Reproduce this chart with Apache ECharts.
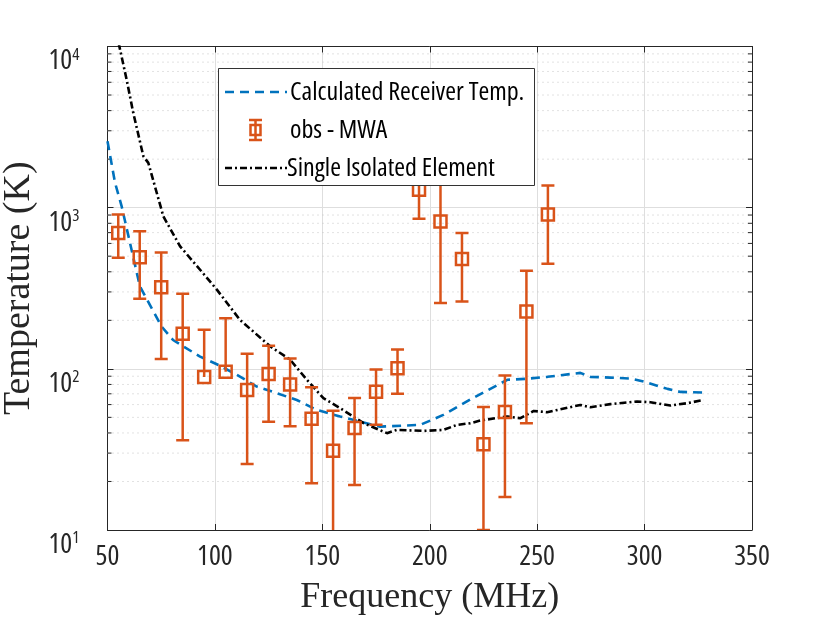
<!DOCTYPE html>
<html><head><meta charset="utf-8">
<script src="https://cdn.jsdelivr.net/npm/echarts@6/dist/echarts.min.js"></script>
<style>html,body{margin:0;padding:0;background:#fff}#c{width:830px;height:623px}</style>
</head><body><div id="c"></div>
<script>
// ---- data ----
const freqObs = [55,65,75,85,95,105,115,125,135,145,155,165,175,185,195,205,215,225,235,245,255];
const tObs    = [697,493,321,165,89,96,74,93,80,49,31,43,72,101,1294,822,480,34,54,227,906];
const tLow    = [489,272,115,36,89,96,25.7,47,44,19.5,8,19,45,70,855,256,262,10,16,46,449];
const tHigh   = [906,713,527,292,175,206,124,139,116,77,55,66,99,132,1900,1600,696,58,91,406,1371];

const freqCalc = [50,53.5,56.6,65.1,75.2,80.5,93.1,102.4,110.2,119.5,128.8,138.1,147.5,158.3,176.9,195.6,206.3,220.3,236.1,245.4,254.8,270.1,274.8,284.1,293.4,299.5,310.7,316.7,327.4];
const tCalc    = [2582,1429,1018,324,183,151,119,104.5,91.8,77.6,70.6,64.1,55.6,50.6,43.8,44.9,51.8,66.1,85.5,86.8,89.2,94.4,89.2,88.2,87.0,83.4,75.1,71.9,71.2];

const freqSingle = [52,55.5,58.9,62.0,66.7,69.0,76.0,83.8,93.1,100.9,111.7,125.7,135.0,142.8,150.5,158.3,169.2,180.1,184.7,197.1,206.4,212.7,218.9,223.6,236.0,242.2,248.4,254.6,270.1,274.8,284.1,296.5,302.7,312.0,319.8,327.5];
const tSingle    = [16000,10050,6237,3873,2084,1897,883,575,412,310,201,138,114,85.5,65.8,57.0,46.0,39.9,41.8,41.2,41.8,44.9,46.0,47.8,50.6,49.4,54.8,53.8,59.7,57.8,60.4,62.7,62.1,59.2,61.2,64.1];

const yMinor = [20,30,40,50,60,70,80,90,200,300,400,500,600,700,800,900,2000,3000,4000,5000,6000,7000,8000,9000];

const names = ['Calculated Receiver Temp.','obs - MWA','Single Isolated Element'];
// ---------------------------------------

const BLUE='#0072BD', ORANGE='#D95319', AXC='#262626';
const SANS = '"Open Sans","Roboto Condensed",sans-serif';
const SERIF = '"Liberation Serif","DejaVu Serif",serif';
const LEGTXT = {fontFamily:SANS, fontWeight:'condensed', fontSize:26, fill:'#000', verticalAlign:'middle'};

const obsData = freqObs.map((f,i)=>[f,tObs[i],tLow[i],tHigh[i]]);
const chart = echarts.init(document.getElementById('c'), null, {renderer:'canvas'});

const yLabel = {
  color:'#262626', margin: 28, verticalAlign:'top',
  formatter: v => '{b|10}{s|' + Math.round(Math.log10(v)) + '}',
  rich: {
    b:{fontSize:28, fontFamily:SANS, fontWeight:'condensed', color:'#262626', lineHeight:30},
    s:{fontSize:17, fontFamily:SANS, fontWeight:'condensed', color:'#262626', lineHeight:17, verticalAlign:'top'}
  }
};

// legend geometry (box around the three entries)
const LX=218.5, LY=68.5, LW=316, LH=117;
const rows=[92,130,168];
const legendEls = [
  {type:'rect', shape:{x:LX, y:LY, width:LW, height:LH}, style:{fill:'#fff', stroke:'#333', lineWidth:1}},
  {type:'line', shape:{x1:225, y1:rows[0], x2:287, y2:rows[0]}, style:{stroke:BLUE, lineWidth:2.6, lineDash:[9,6]}},
  {type:'text', x:290, y:rows[0]+1, style:Object.assign({text:names[0]}, LEGTXT)},
  {type:'line', shape:{x1:255.5, y1:rows[1]-10, x2:255.5, y2:rows[1]+10}, style:{stroke:ORANGE, lineWidth:2.5}},
  {type:'line', shape:{x1:249, y1:rows[1]-10, x2:262, y2:rows[1]-10}, style:{stroke:ORANGE, lineWidth:2.5}},
  {type:'line', shape:{x1:249, y1:rows[1]+10, x2:262, y2:rows[1]+10}, style:{stroke:ORANGE, lineWidth:2.5}},
  {type:'rect', shape:{x:250.5, y:rows[1]-5, width:10, height:10}, style:{fill:'none', stroke:ORANGE, lineWidth:2.5}},
  {type:'text', x:290, y:rows[1]+1, style:Object.assign({text:names[1]}, LEGTXT)},
  {type:'line', shape:{x1:225, y1:rows[2], x2:287, y2:rows[2]}, style:{stroke:'#000', lineWidth:2.6, lineDash:[7,3,2,3]}},
  {type:'text', x:287, y:rows[2]+1, style:Object.assign({text:names[2]}, LEGTXT)}
].map(e => Object.assign(e, {z:100, silent:true}));

chart.setOption({
  animation:false,
  backgroundColor:'#fff',
  grid:{left:107.5, right:78, top:46.5, bottom:93, show:false, outerBoundsMode:'none', containLabel:false},
  xAxis:[
    {type:'value', min:50, max:350, interval:50, position:'bottom',
     axisLine:{show:true, onZero:false, lineStyle:{color:AXC, width:1}},
     axisTick:{show:true, inside:true, length:6, lineStyle:{color:AXC}},
     axisLabel:{fontFamily:SANS, fontWeight:'condensed', fontSize:28, color:'#262626', margin:13},
     splitLine:{show:true, lineStyle:{color:'#dedede', width:1}},
     name:'Frequency (MHz)', nameLocation:'middle', nameGap:50,
     nameTextStyle:{fontFamily:SERIF, fontSize:36, color:'#262626'}},
    {type:'value', min:50, max:350, interval:50, position:'top',
     axisLine:{show:true, onZero:false, lineStyle:{color:AXC, width:1}},
     axisTick:{show:true, inside:true, length:6, lineStyle:{color:AXC}},
     axisLabel:{show:false}, splitLine:{show:false}}
  ],
  yAxis:[
    {type:'log', logBase:10, min:10, max:10000, position:'left',
     axisLine:{show:true, onZero:false, lineStyle:{color:AXC, width:1}},
     axisTick:{show:true, inside:true, length:6, lineStyle:{color:AXC}},
     axisLabel:yLabel,
     splitLine:{show:true, lineStyle:{color:'#dedede', width:1}},
     name:'Temperature (K)', nameLocation:'middle', nameGap:64,
     nameTextStyle:{fontFamily:SERIF, fontSize:38, color:'#262626'}},
    {type:'log', logBase:10, min:10, max:10000, position:'right',
     axisLine:{show:true, onZero:false, lineStyle:{color:AXC, width:1}},
     axisTick:{show:true, inside:true, length:6, lineStyle:{color:AXC}},
     axisLabel:{show:false}, splitLine:{show:false}}
  ],
  graphic:legendEls,
  series:[
    {name:'minor', type:'custom', silent:true, z:1,
     data:yMinor.map(v=>[50,v]),
     renderItem:(params, api)=>{
       const v = api.value(1);
       const a = api.coord([50, v]), b = api.coord([350, v]);
       return {type:'group', children:[
         {type:'line', shape:{x1:a[0], y1:a[1], x2:b[0], y2:b[1]},
          style:{stroke:'#c4c4c4', lineWidth:1, lineDash:[1,4]}},
         {type:'line', shape:{x1:a[0], y1:a[1], x2:a[0]+4, y2:a[1]}, style:{stroke:AXC, lineWidth:1}},
         {type:'line', shape:{x1:b[0]-4, y1:b[1], x2:b[0], y2:b[1]}, style:{stroke:AXC, lineWidth:1}}
       ]};
     }},
    {name:names[0], type:'line', data:freqCalc.map((f,i)=>[f,tCalc[i]]),
     symbol:'none', showSymbol:false, clip:true, z:3,
     lineStyle:{color:BLUE, width:2.6, type:[9,6]}},
    {name:names[1], type:'custom', data:obsData, clip:true, z:4,
     renderItem:(params, api)=>{
       const x=api.value(0), c=api.value(1), lo=api.value(2), hi=api.value(3);
       const pc=api.coord([x,c]), pl=api.coord([x,lo]), ph=api.coord([x,hi]);
       const cw=6.5, s=6;
       const st={stroke:ORANGE, lineWidth:2.5, fill:null};
       const ch=[
         {type:'line', shape:{x1:pc[0], y1:ph[1], x2:pc[0], y2:pl[1]}, style:st},
         {type:'line', shape:{x1:pc[0]-cw, y1:ph[1], x2:pc[0]+cw, y2:ph[1]}, style:st},
         {type:'rect', shape:{x:pc[0]-s, y:pc[1]-s, width:2*s, height:2*s}, style:{stroke:ORANGE, lineWidth:2.5, fill:'rgba(0,0,0,0)'}}
       ];
       if (lo < c) ch.push({type:'line', shape:{x1:pc[0]-cw, y1:pl[1], x2:pc[0]+cw, y2:pl[1]}, style:st});
       return {type:'group', children:ch};
     }},
    {name:names[2], type:'line', data:freqSingle.map((f,i)=>[f,tSingle[i]]),
     symbol:'none', showSymbol:false, clip:true, z:3,
     lineStyle:{color:'#000', width:2.6, type:[7,3,2,3]}}
  ]
});
</script></body></html>
